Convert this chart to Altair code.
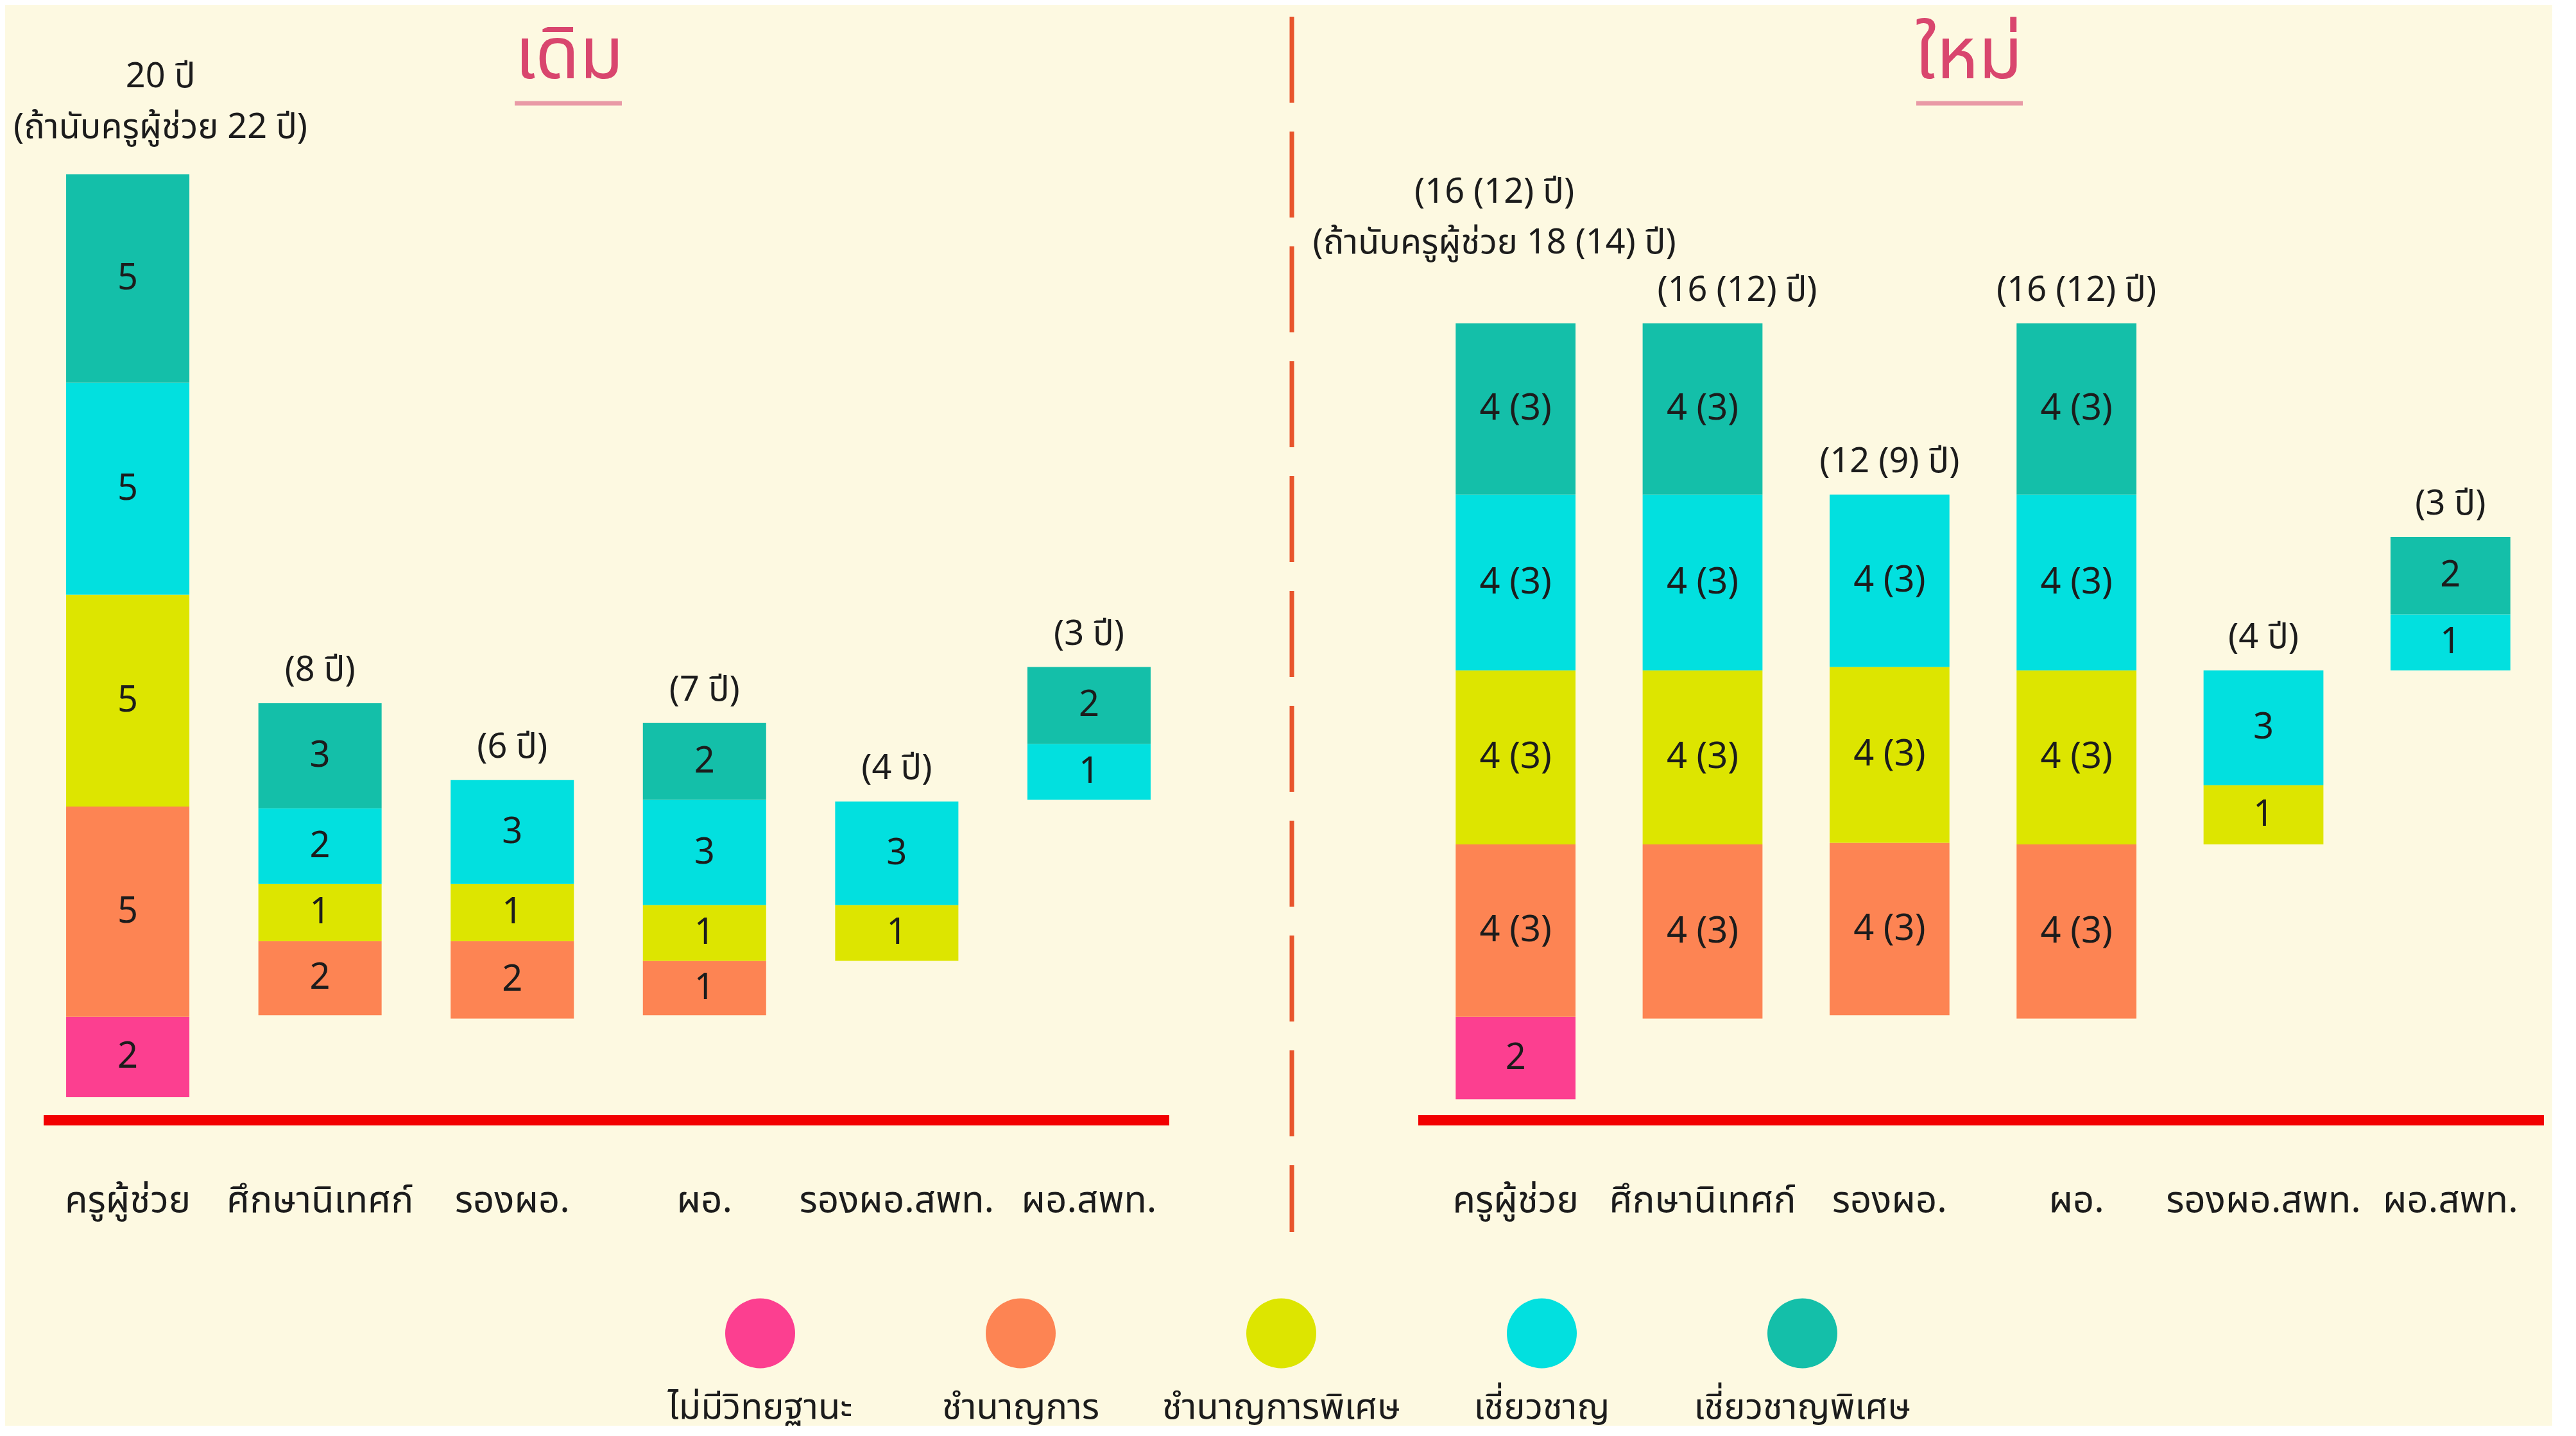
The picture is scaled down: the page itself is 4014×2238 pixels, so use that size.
import altair as alt
import pandas as pd

FONT = "Noto Sans Thai, Noto Sans, Lato, sans-serif"
BG = "#fdf9e1"
INK = "#1c1c1c"

categories = ["ครูผู้ช่วย", "ศึกษานิเทศก์", "รองผอ.", "ผอ.", "รองผอ.สพท.", "ผอ.สพท."]
levels = ["ไม่มีวิทยฐานะ", "ชำนาญการ", "ชำนาญการพิเศษ", "เชี่ยวชาญ", "เชี่ยวชาญพิเศษ"]
level_colors = ["#fc3f90", "#fd8453", "#dde500", "#02e0df", "#14bfa9"]

# ---- "เดิม" (old) : segment per position / level, extents read on the hidden years-like axis
old_cat = (["ครูผู้ช่วย"] * 5 + ["ศึกษานิเทศก์"] * 4 + ["รองผอ."] * 3 + ["ผอ."] * 4
           + ["รองผอ.สพท."] * 2 + ["ผอ.สพท."] * 2)
old_level = levels + levels[1:] + levels[1:4] + levels[1:] + levels[2:4] + levels[3:]
old_text = ["2", "5", "5", "5", "5",
            "2", "1", "2", "3",
            "2", "1", "3",
            "1", "1", "3", "2",
            "1", "3",
            "1", "2"]
old_lo = [0.55, 2.46, 7.46, 12.50, 17.54,
          2.50, 4.26, 5.62, 7.42,
          2.42, 4.26, 5.62,
          2.50, 3.79, 5.12, 7.62,
          3.79, 5.12,
          7.62, 8.95]
old_hi = [2.46, 7.46, 12.50, 17.54, 22.50,
          4.26, 5.62, 7.42, 9.92,
          4.26, 5.62, 8.09,
          3.79, 5.12, 7.62, 9.45,
          5.12, 7.58,
          8.95, 10.78]
old_totals = ["20 ปี\n(ถ้านับครูผู้ช่วย 22 ปี)", "(8 ปี)", "(6 ปี)", "(7 ปี)", "(4 ปี)", "(3 ปี)"]

# ---- "ใหม่" (new)
new_cat = list(old_cat)
new_level = list(old_level)
new_text = ["2", "4 (3)", "4 (3)", "4 (3)", "4 (3)",
            "4 (3)", "4 (3)", "4 (3)", "4 (3)",
            "4 (3)", "4 (3)", "4 (3)",
            "4 (3)", "4 (3)", "4 (3)", "4 (3)",
            "1", "3",
            "1", "2"]
new_lo = [0.50, 2.46, 6.56, 10.70, 14.88,
          2.42, 6.56, 10.70, 14.88,
          2.50, 6.60, 10.78,
          2.42, 6.56, 10.70, 14.88,
          6.56, 7.97,
          10.70, 12.03]
new_hi = [2.46, 6.56, 10.70, 14.88, 18.95,
          6.56, 10.70, 14.88, 18.95,
          6.60, 10.78, 14.88,
          6.56, 10.70, 14.88, 18.95,
          7.97, 10.70,
          12.03, 13.87]
new_totals = ["(16 (12) ปี)\n(ถ้านับครูผู้ช่วย 18 (14) ปี)", "(16 (12) ปี)", "(12 (9) ปี)",
              "(16 (12) ปี)", "(4 ปี)", "(3 ปี)"]

# ---- layout (pixels)
W = 1760
H = 1738
Y_MAX = 26.52
color_scale = alt.Scale(domain=levels, range=level_colors)
y_scale = alt.Scale(domain=[0, Y_MAX], nice=False, zero=False)


def panel(cat, lvl, txt, lo, hi, totals, title, title_x, ul, pad_outer, ann_shift, separator):
    seg = pd.DataFrame({"cat": cat, "level": lvl, "txt": txt, "lo": lo, "hi": hi})
    seg["mid"] = (seg["lo"] + seg["hi"]) / 2
    top = seg.groupby("cat")["hi"].max()
    ann = pd.DataFrame({"cat": categories, "total": totals})
    ann["top"] = [top[c] for c in categories]

    x = alt.X("cat:N", sort=categories,
              scale=alt.Scale(domain=categories, paddingInner=0.359, paddingOuter=pad_outer),
              axis=alt.Axis(title=None, domain=False, ticks=False, labelAngle=0,
                            labelFontSize=58, labelPadding=96, labelColor=INK,
                            labelFont=FONT, labelLimit=1000, grid=False))

    bars = alt.Chart(seg).mark_bar(opacity=1).encode(
        x=x,
        y=alt.Y("lo:Q", scale=y_scale, axis=None),
        y2="hi:Q",
        color=alt.Color("level:N", scale=color_scale, legend=None),
    )
    seg_txt = alt.Chart(seg).mark_text(fontSize=56, color=INK, font=FONT, baseline="middle").encode(
        x=alt.X("cat:N", sort=categories),
        y=alt.Y("mid:Q", scale=y_scale, axis=None),
        text="txt:N",
    )
    layers = [bars, seg_txt]
    # annotations above the bars
    for c in categories:
        dx, dy = ann_shift.get(c, (0, -24))
        layers.append(
            alt.Chart(ann).transform_filter(alt.datum.cat == c).mark_text(
                fontSize=54, color=INK, font=FONT, baseline="bottom", lineBreak="\n",
                lineHeight=79, dx=dx, dy=dy).encode(
                x=alt.X("cat:N", sort=categories),
                y=alt.Y("top:Q", scale=y_scale, axis=None),
                text="total:N",
            )
        )
    base = alt.Chart(pd.DataFrame({"y": [0]}))
    layers.append(base.mark_rule(color="#f20000", strokeWidth=16).encode(
        y=alt.Y("y:Q", scale=y_scale, axis=None), x=alt.value(0), x2=alt.value(W - 6)))
    layers.append(alt.Chart(pd.DataFrame({"t": [title]})).mark_text(
        fontSize=112, color="#d9466e", font=FONT, baseline="alphabetic", align="center").encode(
        text="t:N", x=alt.value(title_x), y=alt.value(114)))
    layers.append(base.mark_rule(color="#e99aa6", strokeWidth=7).encode(
        x=alt.value(ul[0]), x2=alt.value(ul[1]), y=alt.value(153)))
    if separator:
        layers.append(base.mark_rule(color="#e8552c", strokeWidth=7, strokeDash=[134, 45]).encode(
            x=alt.value(1945), y=alt.value(18), y2=alt.value(1912)))
    return alt.layer(*layers).properties(width=W, height=H)


old_panel = panel(old_cat, old_level, old_text, old_lo, old_hi, old_totals, "เดิม", 819,
                  (734, 901), 0.117, {"ครูผู้ช่วย": (51, -124)}, True)
new_panel = panel(new_cat, new_level, new_text, new_lo, new_hi, new_totals, "ใหม่", 858,
                  (776, 942), 0.2, {"ครูผู้ช่วย": (-33, -177), "ศึกษานิเทศก์": (54, -24)}, False)

# custom legend: big dots with the level names underneath, in level order
leg = pd.DataFrame({"level": levels, "order": list(range(len(levels)))})
leg_x = alt.X("order:Q", scale=alt.Scale(domain=[-2.75, 6.75], nice=False, zero=False), axis=None)
legend = alt.layer(
    alt.Chart(leg).mark_point(filled=True, size=11882, opacity=1, shape="circle").encode(
        x=leg_x, y=alt.value(144),
        color=alt.Color("level:N", scale=color_scale, legend=None)),
    alt.Chart(leg).mark_text(fontSize=56, color=INK, font=FONT, baseline="middle").encode(
        x=leg_x, y=alt.value(260), text="level:N"),
).properties(width=3857, height=285)

chart = alt.vconcat(
    alt.hconcat(old_panel, new_panel, spacing=382, bounds="flush"),
    legend,
    spacing=10,
).properties(
    background=BG,
    padding={"left": 13, "top": 0, "right": 5, "bottom": 0},
).configure_view(stroke=None).configure_axis(grid=False)

chart.save("out.html", embed_options={"renderer": "svg", "actions": False})
